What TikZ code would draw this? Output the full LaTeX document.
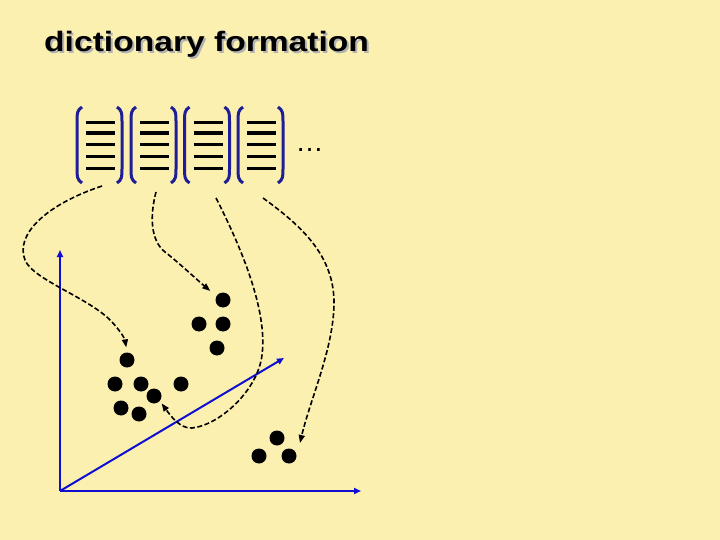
\documentclass[tikz,border=0pt]{standalone}
\usepackage{fontspec}
\setmainfont{Liberation Sans}
\newfontfamily\titlefont[FakeStretch=1.2]{Liberation Sans}
\usetikzlibrary{arrows.meta}

\definecolor{slidebg}{RGB}{251,240,176}
\definecolor{axisblue}{RGB}{15,15,210}
\definecolor{parenblue}{RGB}{30,30,150}

% title text with a gray drop shadow
\newcommand{\shadowed}[1]{\makebox[0pt][l]{\hspace{2pt}\raisebox{-2pt}{\textcolor{gray!60}{#1}}}#1}

\begin{document}
\begin{tikzpicture}[x=1pt,y=-1pt,
  paren/.style={parenblue, line width=3pt},
  entry/.style={black, line width=3.3pt},
  axis/.style={axisblue, line width=2pt, -{Triangle[length=7pt,width=6pt]}},
  blob/.style={circle, fill=black, inner sep=0pt, minimum size=15pt},
  link/.style={black, line width=1.6pt, dash pattern=on 5pt off 2.5pt, -{Triangle[length=8pt,width=6pt]}}]

% Slide background
\fill[slidebg] (0,0) rectangle (720,540);

% Title
\node[anchor=base west, inner sep=0pt, font=\titlefont\bfseries\fontsize{28}{32}\selectfont] (title) at (44,52) {\shadowed{dictionary formation}};

% Dictionary columns (parentheses and entries)
\foreach \x in {77,131,184.5,238} {
  \draw[paren] (\x+5,107) .. controls (\x,110) and (\x,114) .. (\x,121) -- (\x,169) .. controls (\x,176) and (\x,180) .. (\x+5,183);
  \draw[paren] (\x+40,107) .. controls (\x+45,110) and (\x+45,114) .. (\x+45,121) -- (\x+45,169) .. controls (\x+45,176) and (\x+45,180) .. (\x+40,183);
  \foreach \y in {122.5,133,144.3,156.5,168.3}
    \draw[entry] (\x+9,\y) -- (\x+38,\y);
}
\node[font=\fontsize{28}{30}\selectfont] (more) at (309.5,150) {…};

% Axes
\coordinate (O) at (60,491);
\coordinate (ytip) at (60,250);
\coordinate (xtip) at (361,491);
\coordinate (ztip) at (284,358);
\draw[axis] (O) -- (ytip);
\draw[axis] (O) -- (xtip);
\draw[axis] (O) -- (ztip);

% Clusters of points
\node[blob] (a1) at (223,300) {};
\node[blob] (a2) at (199,324) {};
\node[blob] (a3) at (223,324) {};
\node[blob] (a4) at (217,348) {};

\node[blob] (b1) at (127,360) {};
\node[blob] (b2) at (115,384) {};
\node[blob] (b3) at (141,384) {};
\node[blob] (b4) at (181,384) {};
\node[blob] (b5) at (154,396) {};
\node[blob] (b6) at (121,408) {};
\node[blob] (b7) at (139,414) {};

\node[blob] (c1) at (277,438) {};
\node[blob] (c2) at (259,456) {};
\node[blob] (c3) at (289,456) {};

% Dashed links from the columns
\coordinate (s1) at (102,186);
\coordinate (s2) at (156,192);
\coordinate (s3) at (216,198);
\coordinate (s4) at (263,198);
\coordinate (tip4) at (300,443);

\draw[link, shorten >=5pt] (s1) .. controls (45,205) and (15,235) .. (25,260)
  .. controls (33,280) and (90,298) .. (112,322)
  .. controls (123,334) and (125,340) .. (b1.north);
\draw[link, shorten >=8pt] (s2) .. controls (150,215) and (150,240) .. (165,252)
  .. controls (178,262) and (195,278) .. (a1.150);
\draw[link, shorten >=3pt] (s3) .. controls (240,245) and (268,310) .. (262,355)
  .. controls (258,390) and (220,425) .. (192,428)
  .. controls (180,429) and (170,415) .. (b5.-40);
\draw[link] (s4) .. controls (300,225) and (335,255) .. (334,305)
  .. controls (333,350) and (310,400) .. (tip4);

\end{tikzpicture}
\end{document}
